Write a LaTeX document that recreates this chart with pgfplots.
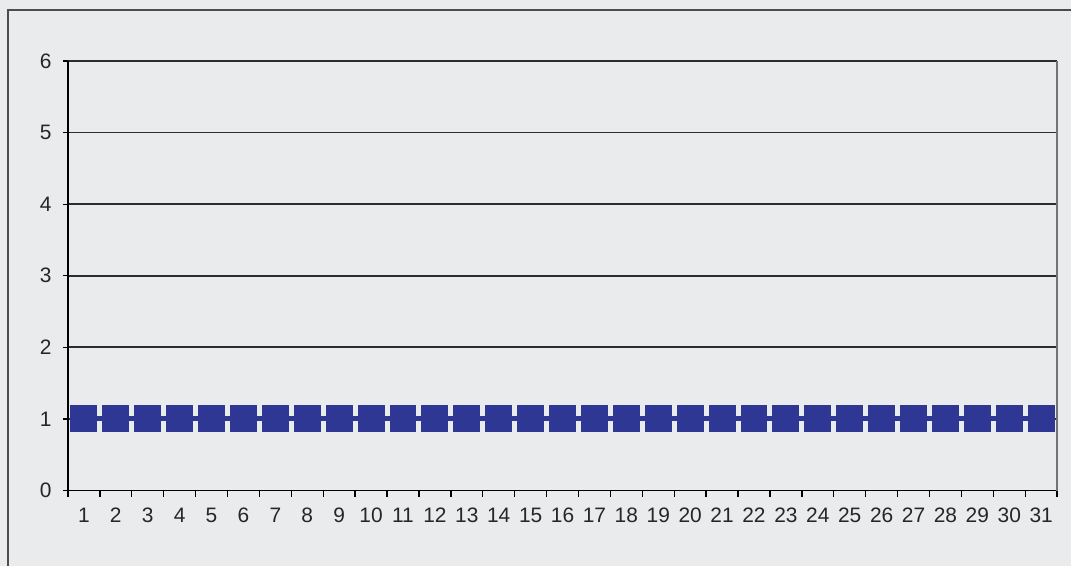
\documentclass[border=0pt]{standalone}
\usepackage{pgfplots}
\pgfplotsset{compat=1.18}
\usepackage{fontspec}
\setmainfont{Liberation Sans}
\definecolor{bg}{RGB}{234,235,237}
\definecolor{ser}{RGB}{46,56,148}
\definecolor{gridc}{RGB}{45,45,45}
\begin{document}
\begin{tikzpicture}[x=1bp,y=1bp]
\fill[bg] (0,0) rectangle (1072,566);
\draw[line width=1.8bp, black!70] (8,0) -- (8,556) -- (1072,556);
\begin{axis}[at={(68bp,75bp)}, anchor=south west, scale only axis,
  width=990bp, height=430bp,
  xmin=0.5, xmax=31.5, ymin=0, ymax=6,
  axis x line=bottom, axis y line=left,
  axis line style={-, line width=1.6bp, black},
  xtick={1,...,31}, major x tick style={draw=none},
  minor xtick={0.5,1.5,...,31.5},
  minor x tick style={line width=1.3bp, black},
  minor tick length=6bp,
  ytick={0,...,6},
  major y tick style={line width=1.3bp, black},
  major tick length=5bp,
  tick align=outside,
  ymajorgrids, grid style={gridc, line width=1.8bp},
  /pgf/number format/assume math mode=true,
  tick label style={font=\fontsize{21}{21}\selectfont, text=black!85},
  xticklabel style={yshift=-9bp},
  yticklabel style={xshift=-8bp},
  clip=false,
]
\addplot[ser, line width=5bp, mark=square*, mark size=11bp, mark options={solid}]
coordinates {(1,1)(2,1)(3,1)(4,1)(5,1)(6,1)(7,1)(8,1)(9,1)(10,1)(11,1)(12,1)(13,1)(14,1)(15,1)(16,1)(17,1)(18,1)(19,1)(20,1)(21,1)(22,1)(23,1)(24,1)(25,1)(26,1)(27,1)(28,1)(29,1)(30,1)(31,1)};
\draw[black!55, line width=1.5bp] (rel axis cs:1,0) -- (rel axis cs:1,1);
\end{axis}
\end{tikzpicture}
\end{document}
